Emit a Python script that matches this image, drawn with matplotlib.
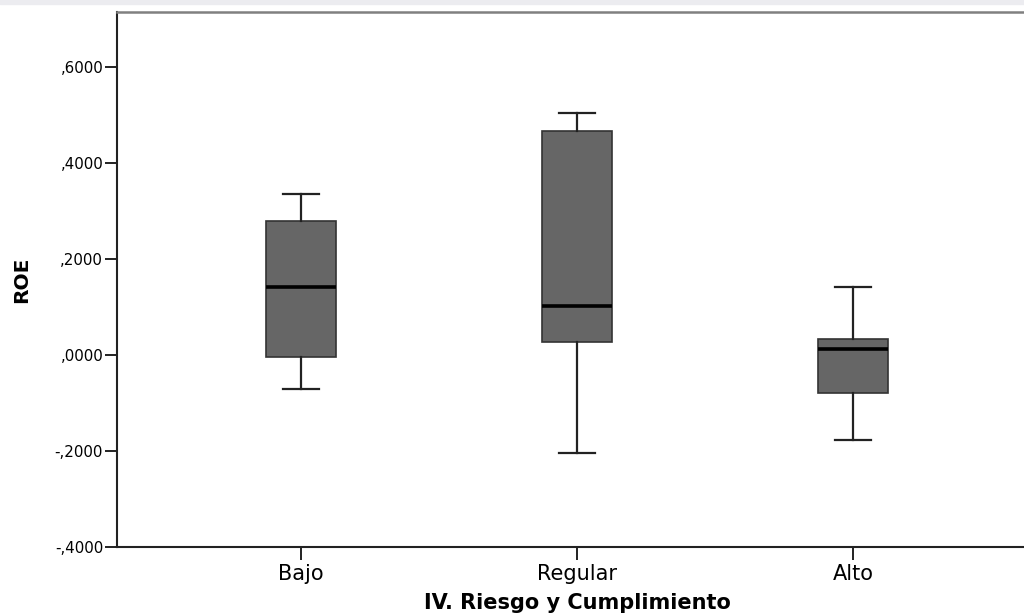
import matplotlib
matplotlib.use("Agg")
import matplotlib.pyplot as plt
from matplotlib.patches import Rectangle
from matplotlib.ticker import FuncFormatter

# ROE summary per risk / compliance level
groups = ["Bajo", "Regular", "Alto"]
whisker_low = [-0.071, -0.204, -0.178]
q1 = [-0.004, 0.027, -0.079]
median = [0.142, 0.102, 0.013]
q3 = [0.280, 0.467, 0.033]
whisker_high = [0.335, 0.505, 0.142]
yticks = [-0.4, -0.2, 0.0, 0.2, 0.4, 0.6]

plt.rcParams['font.family'] = ['DejaVu Sans']

fig = plt.figure(figsize=(10.24, 6.15), dpi=100)
fig.patches.append(Rectangle((0, 1 - 4 / 615), 1, 4 / 615, transform=fig.transFigure,
                             color="#ececf0", zorder=0))
ax = fig.add_axes([117 / 1024, 68 / 615, 920 / 1024, 535 / 615])

stats = []
for i, g in enumerate(groups):
    stats.append(dict(label=g, whislo=whisker_low[i], q1=q1[i], med=median[i],
                      q3=q3[i], whishi=whisker_high[i], fliers=[]))

ax.bxp(stats, positions=[1, 2, 3], widths=0.254, patch_artist=True,
       showfliers=False,
       boxprops=dict(facecolor="#666666", edgecolor="#333333", linewidth=1.2),
       medianprops=dict(color="black", linewidth=2.6),
       whiskerprops=dict(color="#222222", linewidth=1.6),
       capprops=dict(color="#222222", linewidth=1.6))

ax.set_xlim(1 / 3, 3 + 2 / 3)
ax.set_ylim(-0.4, 0.7146)
ax.set_yticks(yticks)


def spss_fmt(v, pos):
    s = f"{v:.4f}".replace("0.", ".", 1)
    return s.replace(".", ",")


ax.yaxis.set_major_formatter(FuncFormatter(spss_fmt))
ax.set_xticks([1, 2, 3])
ax.set_xticklabels(groups)

ax.tick_params(axis="y", length=9, width=1.4, pad=1, labelsize=10.8, color="#222222")
ax.tick_params(axis="x", length=9, width=1.4, pad=3, labelsize=15, color="#222222")

for side in ["left", "bottom"]:
    ax.spines[side].set_linewidth(1.5)
    ax.spines[side].set_color("#222222")
ax.spines["top"].set_linewidth(1.8)
ax.spines["top"].set_color("#808080")
ax.spines["right"].set_visible(False)

ax.set_ylabel("ROE", fontsize=14.5, fontweight="bold", labelpad=17)
ax.set_xlabel("IV. Riesgo y Cumplimiento", fontsize=15, fontweight="bold", labelpad=7)

fig.savefig("out.png", dpi=100)
